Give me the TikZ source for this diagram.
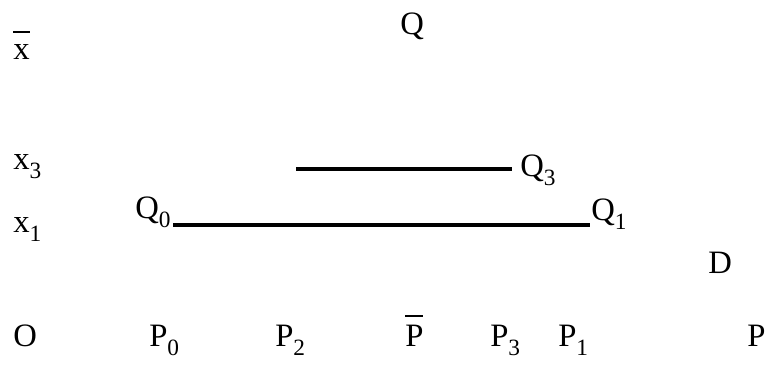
\documentclass[tikz,border=0pt]{standalone}
\usepackage{fontspec}
\setmainfont{Liberation Serif}
\usepackage{tikz}
\usetikzlibrary{positioning}

\newlength\barwd
\newcommand{\topbar}[2][1.0em]{\settowidth{\barwd}{#2}\makebox[0pt][l]{\raisebox{#1}{\rule{\barwd}{0.07em}}}#2}
\newcommand{\ix}[1]{\raisebox{-0.25em}{\fontsize{17.5}{18}\selectfont #1}}

\begin{document}
\begin{tikzpicture}[x=0.75pt, y=-0.75pt,
    every node/.style={font=\fontsize{24.5}{28}\selectfont, inner sep=0pt, anchor=base west},
    segline/.style={line width=2.3pt}]
    \useasboundingbox (0,0) rectangle (769,367);

    % axis labels
    \node (qtop) at (400,35) {Q};
    \node (xbar) at (13,60) {\topbar[0.82em]{x}};
    \node (x3) at (13,170) {x\ix{3}};
    \node (x1) at (13,233) {x\ix{1}};
    \node (orig) at (13,347) {O};
    \node (p0) at (149,347) {P\ix{0}};
    \node (p2) at (275,347) {P\ix{2}};
    \node (pbar) at (405,347) {\topbar[0.92em]{P}};
    \node (p3) at (490,347) {P\ix{3}};
    \node (p1) at (558,347) {P\ix{1}};
    \node (paxis) at (747,347) {P};
    \node (dlab) at (708,274) {D};

    % segment labels
    \node (q0) at (135,219) {Q\ix{0}};
    \node (q1) at (591,221) {Q\ix{1}};
    \node (q3) at (520,177) {Q\ix{3}};

    \coordinate (a0) at (173,225);
    \coordinate (a1) at (590,225);
    \coordinate (b0) at (296,169);
    \coordinate (b1) at (512,169);

    \draw[segline] (a0) -- (a1);
    \draw[segline] (b0) -- (b1);
\end{tikzpicture}
\end{document}
